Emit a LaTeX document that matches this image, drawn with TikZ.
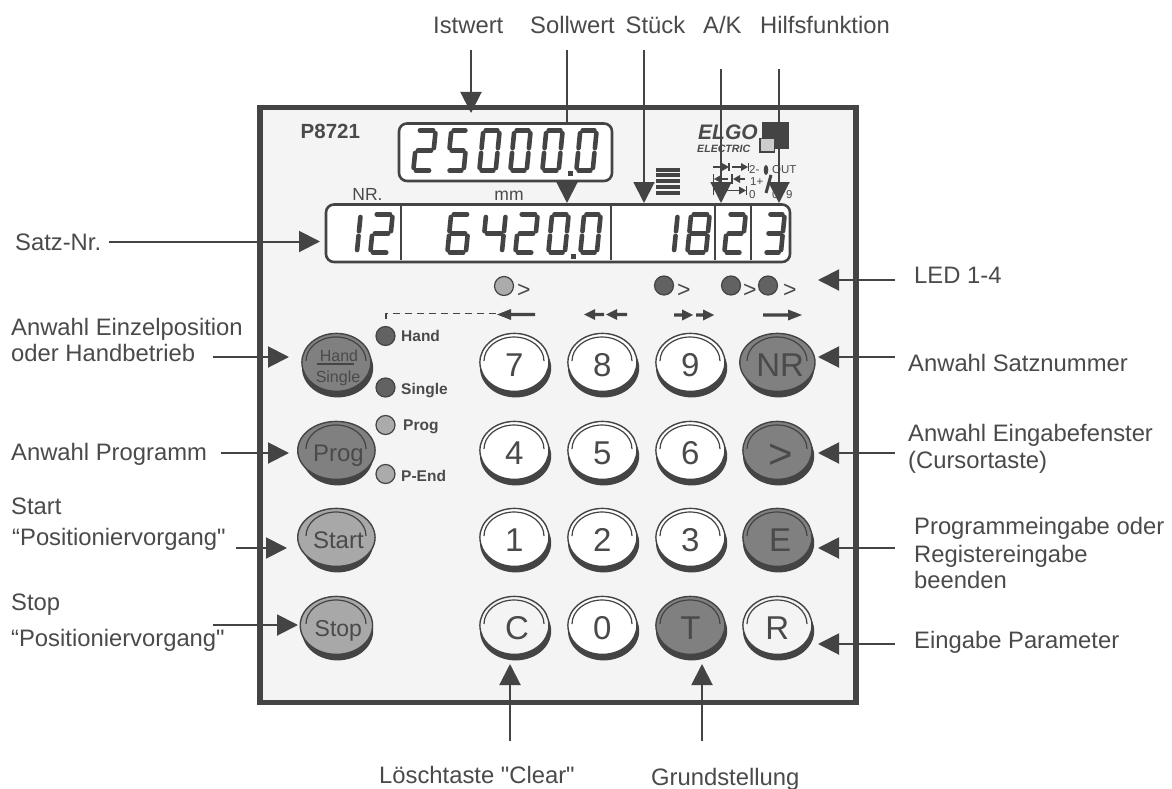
\documentclass[tikz,border=0pt]{standalone}
\usepackage{fontspec}
\setmainfont{Liberation Sans}
\font\plainf="Liberation Sans" at 23.8pt
\usetikzlibrary{arrows.meta,shapes.geometric}
\definecolor{ink}{HTML}{444444}
\definecolor{txt}{HTML}{4A4A4A}
\definecolor{panelbg}{HTML}{F4F4F4}
\definecolor{keydark}{HTML}{808080}
\definecolor{keymid}{HTML}{A8A8A8}
\definecolor{ledlight}{HTML}{ABABAB}
\definecolor{leddark}{HTML}{626262}
\newcommand\fs[1]{\fontsize{#1}{#1}\selectfont}
\tikzset{
  lbl/.style={anchor=base west,inner sep=0pt,text=txt,font=\plainf},
  ptr/.style={draw=ink,line width=2pt,-{Triangle[length=21pt,width=21pt,fill=ink]}},
  facekey/.style={ellipse,draw=ink,line width=1.4pt,minimum width=69pt,minimum height=58pt,inner sep=0pt,text=txt},
  ledot/.style={circle,draw=ink,line width=1.2pt,minimum size=19pt,inner sep=0pt},
  ledlbl/.style={anchor=base west,inner sep=0pt,text=txt,font=\fs{15.5}\bfseries},
  dispbox/.style={draw=ink,line width=2.6pt,fill=white,rounded corners=8pt},
  segl/.style={draw=ink,line width=4.6pt,line cap=round},
  tiny/.style={anchor=base west,inner sep=0pt,text=txt,font=\fs{11.5}},
  sym/.style={draw=ink,line width=1.3pt},
}
% seven-segment digit
\newcommand\sega{\draw[segl] (0.14,0)--(0.86,0);}
\newcommand\segb{\draw[segl] (1,0.07)--(1,0.44);}
\newcommand\segc{\draw[segl] (1,0.56)--(1,0.93);}
\newcommand\segd{\draw[segl] (0.14,1)--(0.86,1);}
\newcommand\sege{\draw[segl] (0,0.56)--(0,0.93);}
\newcommand\segf{\draw[segl] (0,0.07)--(0,0.44);}
\newcommand\segg{\draw[segl] (0.14,0.5)--(0.86,0.5);}
% #1 left of digit, #2 width of digit, #3 top, #4 height, #5 segments
\newcommand\ssd[5]{%
  \pgfmathsetmacro\dw{#2-4.6-0.1*(#4-4.6)}%
  \pgfmathsetmacro\dh{#4-4.6}%
  \begin{scope}[shift={(#1+2.3+0.1*#4-0.46,#3+2.3)},xslant=0.1,x=\dw pt,y=-\dh pt]
    \foreach \s in {#5}{\csname seg\s\endcsname}
  \end{scope}}
% #1 name, #2 x, #3 y, #4 fill, #5 text options, #6 text; key with shadow and highlight arc
\newcommand\keycap[6]{%
  \fill[ink] (#2+0.6,#3+3) ellipse [x radius=35.6,y radius=29.4];
  \node[facekey,fill=#4,font=#5] (#1) at (#2-0.6,#3-2.6) {\smash{\raisebox{\dimexpr-0.358em-2.6pt\relax}{#6}}};
  \draw[ink,line width=1.2pt] (#2-31,#3-4) arc [start angle=180,end angle=360,x radius=30,y radius=24];
}
\begin{document}
\begin{tikzpicture}[x=1pt,y=-1pt]
\path[use as bounding box] (0,0) rectangle (1172,789);
\fill[white] (0,0) rectangle (1172,789);
% panel
\node[draw=ink,line width=5.5pt,fill=panelbg,minimum width=596pt,minimum height=595pt,inner sep=0pt] (panel) at (558,405) {};
% header texts
\node[anchor=base west,inner sep=0pt,text=txt,font=\fs{20.5}\bfseries] (model) at (300.5,139) {P8721};
\node[inner sep=0pt,text=txt,anchor=base,font=\fs{17.5}] (nrlbl) at (367.5,200) {NR.};
\node[inner sep=0pt,text=txt,anchor=base,font=\fs{17.5}] (mmlbl) at (509,200) {mm};
% logo
\node[anchor=base west,inner sep=0pt,text=txt,font=\fs{21}\bfseries\itshape] (elgo) at (698,139.5) {ELGO};
\node[anchor=base west,inner sep=0pt,text=txt,font=\fs{10.6}\bfseries\itshape] (electric) at (697,152) {ELECTRIC};
\fill[ink] (762,122) rectangle (789,149);
\filldraw[fill=black!20,draw=ink,line width=1.4pt] (760,138.5) rectangle (774.5,152);
% stripes
\foreach \yy in {167.5,173.3,179.1,184.9,190.7}{\fill[ink] (656,\yy) rectangle (680,\yy+4);}
% small symbols
\draw[sym] (713,167)--(725,167); \fill[ink] (722,163)--(729,167)--(722,171)--cycle; \draw[sym] (729,163)--(729,171);
\draw[sym] (732,167)--(743,167); \fill[ink] (741,163)--(748,167)--(741,171)--cycle; \draw[sym] (748.5,163)--(748.5,171);
\draw[sym] (713.5,174)--(713.5,184); \fill[ink] (714,179)--(721,175)--(721,183)--cycle; \draw[sym] (720,179)--(728,179);
\draw[sym] (732,174)--(732,184); \fill[ink] (733,179)--(740,175)--(740,183)--cycle; \draw[sym] (738,179)--(745,179);
\draw[sym] (713.5,186)--(713.5,195); \draw[sym] (724,190.5)--(741,190.5); \fill[ink] (739,186.5)--(746,190.5)--(739,194.5)--cycle; \draw[sym] (746.5,186)--(746.5,195);
\node[tiny] (s2) at (749,173.5) {2-};
\node[tiny] (s1) at (750,185.5) {1+};
\node[tiny] (s0) at (749,198.5) {0};
\node[tiny] (sout) at (772,173.5) {OUT};
\node[tiny] (s00) at (772,198.5) {0};
\node[tiny] (s9) at (786,198.5) {9};
\fill[ink] (766,170) ellipse [x radius=2.3,y radius=5];
\draw[ink,line width=3pt] (771,175)--(766,193);
% free ends and tips
\coordinate (istS) at (471,50); \coordinate (istT) at (471,113);
\coordinate (solS) at (567,50); \coordinate (solT) at (567,203);
\coordinate (stkS) at (644,50); \coordinate (stkT) at (644,203);
\coordinate (akS) at (721,69); \coordinate (akT) at (721,203);
\coordinate (hfS) at (779,69); \coordinate (hfT) at (779,203);
\coordinate (satzS) at (109,241.5); \coordinate (satzT) at (320,241.5);
\coordinate (handS) at (213,357); \coordinate (handT) at (289,357);
\coordinate (progS) at (221,453); \coordinate (progT) at (289,453);
\coordinate (startS) at (236,548); \coordinate (startT) at (287,548);
\coordinate (stopS) at (213,625); \coordinate (stopT) at (298,625);
\coordinate (ledS) at (895,280); \coordinate (ledT) at (818,280);
\coordinate (nrS) at (895,357); \coordinate (nrT) at (818,357);
\coordinate (curS) at (895,453); \coordinate (curT) at (818,453);
\coordinate (eS) at (895,548); \coordinate (eT) at (818,548);
\coordinate (rS) at (895,644); \coordinate (rT) at (818,644);
\coordinate (cS) at (510,741); \coordinate (cT) at (510,664);
\coordinate (tS) at (702,741); \coordinate (tT) at (702,664);
\foreach \a/\b in {istS/istT,solS/solT,stkS/stkT,akS/akT,hfS/hfT,satzS/satzT,handS/handT,progS/progT,startS/startT,stopS/stopT,ledS/ledT,nrS/nrT,curS/curT,eS/eT,rS/rT,cS/cT,tS/tT}
  \draw[ptr] (\a)--(\b);
% displays
\draw[dispbox] (399,123.5) rectangle (612,181);
\ssd{411}{27}{128}{45}{a,b,g,e,d}
\ssd{445}{25}{128}{45}{a,f,g,c,d}
\ssd{477}{25}{128}{45}{a,b,c,d,e,f}
\ssd{508}{25}{128}{45}{a,b,c,d,e,f}
\ssd{540}{25}{128}{45}{a,b,c,d,e,f}
\ssd{574}{25}{128}{45}{a,b,c,d,e,f}
\fill[ink] (568,171) rectangle (573,176);
\draw[dispbox] (326,204.5) rectangle (790,262);
\foreach \xx in {401,611,715,751}{\draw[ink,line width=2.4pt] (\xx,205)--(\xx,260);}
\ssd{355}{8}{212}{43}{b,c}
\ssd{368}{27}{212}{43}{a,b,g,e,d}
\ssd{445}{27}{212}{43}{a,f,g,e,c,d}
\ssd{480}{28}{212}{43}{f,g,b,c}
\ssd{513}{27}{212}{43}{a,b,g,e,d}
\ssd{546}{25}{212}{43}{a,b,c,d,e,f}
\ssd{578}{25}{212}{43}{a,b,c,d,e,f}
\fill[ink] (570.5,254) rectangle (576,259);
\ssd{672}{8}{212}{43}{b,c}
\ssd{685}{27}{212}{43}{a,b,c,d,e,f,g}
\ssd{722}{26}{212}{43}{a,b,g,e,d}
\ssd{762}{25}{212}{43}{a,b,g,c,d}
% indicator LEDs
\node[ledot,fill=ledlight] (i1) at (504,286) {};
\node[ledot,fill=leddark] (i2) at (664,285.5) {};
\node[ledot,fill=leddark] (i3) at (731,285.5) {};
\node[ledot,fill=leddark] (i4) at (768,285.5) {};
\foreach \nm/\xx in {g1/517,g2/677,g3/743,g4/783}{\node[anchor=base west,inner sep=0pt,text=txt,font=\fs{23}] (\nm) at (\xx,297) {>};}
% direction marks
\draw[ink,line width=1.8pt,dash pattern=on 7pt off 5pt] (386,319)--(386,313.5)--(497,313.5);
\fill[ink] (497,314.5)--(511,309)--(511,312.8)--(535,312.8)--(535,316.2)--(511,316.2)--(511,320)--cycle;
\fill[ink] (584,314.5)--(595,309)--(595,312.8)--(604,312.8)--(604,316.2)--(595,316.2)--(595,320)--cycle;
\fill[ink] (606,314.5)--(617,309)--(617,312.8)--(627,312.8)--(627,316.2)--(617,316.2)--(617,320)--cycle;
\fill[ink] (693,315)--(682,309.5)--(682,313.3)--(674,313.3)--(674,316.7)--(682,316.7)--(682,320.5)--cycle;
\fill[ink] (714,315)--(703,309.5)--(703,313.3)--(696,313.3)--(696,316.7)--(703,316.7)--(703,320.5)--cycle;
\fill[ink] (802,315)--(788,309.5)--(788,313.3)--(763,313.3)--(763,316.7)--(788,316.7)--(788,320.5)--cycle;
% keys, left column
\keycap{kHand}{337}{365}{keydark}{\fs{16}}{}
\node[anchor=base,inner sep=0pt,text=txt,font=\fs{16}] (handt) at (339,361.5) {Hand};
\draw[ink,line width=1.4pt] (317,364)--(354,364);
\node[anchor=base,inner sep=0pt,text=txt,font=\fs{16}] (singlet) at (338,382.5) {Single};
\keycap{kProg}{337}{453}{keydark}{\fs{24}}{\,Prog}
\keycap{kStart}{337}{540}{keymid}{\fs{24}}{\,Start}
\keycap{kStop}{337}{628}{keymid}{\fs{23}}{\,Stop}
% number keys
\keycap{k7}{515}{365}{white}{\fs{33}}{7}
\keycap{k8}{603}{365}{white}{\fs{33}}{8}
\keycap{k9}{691}{365}{white}{\fs{33}}{9}
\keycap{kNR}{778}{365}{keydark}{\fs{33}}{\,NR}
\keycap{k4}{515}{453}{white}{\fs{33}}{4}
\keycap{k5}{603}{453}{white}{\fs{33}}{5}
\keycap{k6}{691}{453}{white}{\fs{33}}{6}
\keycap{kGt}{778}{453}{keydark}{\fs{42}}{\,>}
\keycap{k1}{515}{540}{white}{\fs{33}}{1}
\keycap{k2}{603}{540}{white}{\fs{33}}{2}
\keycap{k3}{691}{540}{white}{\fs{33}}{3}
\keycap{kE}{778}{540}{keydark}{\fs{33}}{\,E}
\keycap{kC}{515}{628}{panelbg}{\fs{33}}{\,C}
\keycap{k0}{603}{628}{white}{\fs{33}}{0}
\keycap{kT}{691}{628}{keydark}{\fs{33}}{T}
\keycap{kR}{778}{628}{panelbg}{\fs{33}}{R}
% status LEDs
\node[ledot,fill=leddark] (lHand) at (385.5,336) {};
\node[ledot,fill=leddark] (lSingle) at (385.5,387.5) {};
\node[ledot,fill=ledlight] (lProg) at (385.5,425) {};
\node[ledot,fill=ledlight] (lEnd) at (385.5,474) {};
\node[ledlbl] (tHand) at (401,341.5) {Hand};
\node[ledlbl] (tSingle) at (401,394) {Single};
\node[ledlbl] (tProg) at (403,430) {Prog};
\node[ledlbl] (tEnd) at (401,481) {P-End};
% annotation labels
\node[lbl] (aIst) at (433,34) {Istwert};
\node[lbl] (aSol) at (530,34) {Sollwert};
\node[lbl] (aStk) at (625.5,34) {Stück};
\node[lbl] (aAK) at (703,34) {A/K};
\node[lbl] (aHf) at (760,34) {Hilfsfunktion};
\node[lbl] (aSatz) at (15,250) {Satz-Nr.};
\node[lbl] (aE1) at (11,335) {Anwahl Einzelposition};
\node[lbl] (aE2) at (11,361) {oder Handbetrieb};
\node[lbl] (aP) at (11,460) {Anwahl Programm};
\node[lbl] (aSt) at (11,514) {Start};
\node[lbl] (aSt2) at (12,545) {“Positioniervorgang"};
\node[lbl] (aSp) at (11,610) {Stop};
\node[lbl] (aSp2) at (11,646) {“Positioniervorgang"};
\node[lbl] (aLed) at (914,283) {LED 1-4};
\node[lbl] (aNr) at (908,371) {Anwahl Satznummer};
\node[lbl] (aC1) at (908,441) {Anwahl Eingabefenster};
\node[lbl] (aC2) at (908,468) {(Cursortaste)};
\node[lbl] (aPe1) at (914,534) {Programmeingabe oder};
\node[lbl] (aPe2) at (914,562) {Registereingabe};
\node[lbl] (aPe3) at (914,588) {beenden};
\node[lbl] (aPar) at (914,648) {Eingabe Parameter};
\node[lbl] (aClr) at (379,783) {Löschtaste "Clear"};
\node[lbl] (aGr) at (651,785) {Grundstellung};
\end{tikzpicture}
\end{document}
